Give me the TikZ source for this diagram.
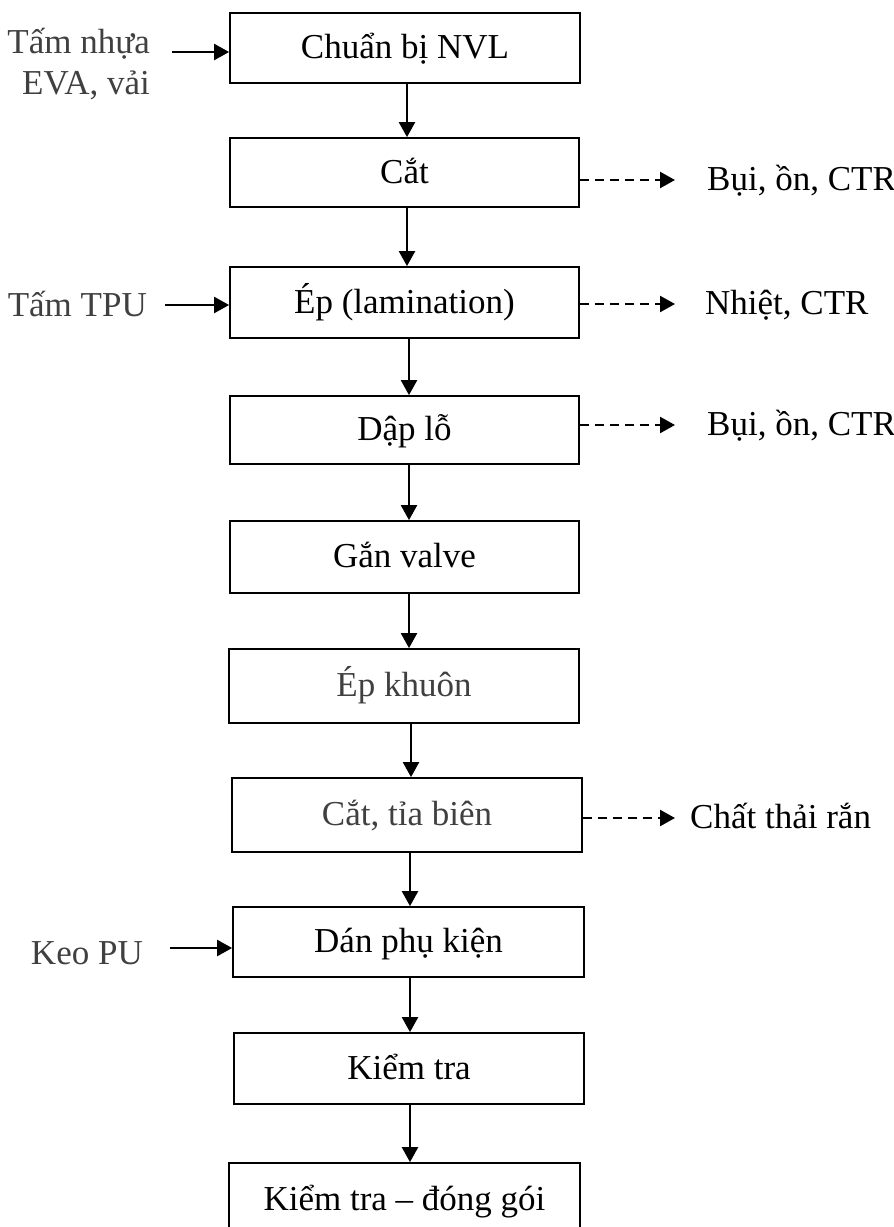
\documentclass[tikz,border=0pt]{standalone}
\usepackage{fontspec}
\setmainfont{Liberation Serif}
\usetikzlibrary{arrows.meta}
\definecolor{labgray}{RGB}{64,64,64}
\begin{document}
\begin{tikzpicture}[x=1pt,y=-1pt,
  box/.style={draw, line width=1.8pt, inner sep=0pt, font=\fontsize{35}{41}\selectfont, text height=29pt, text depth=8pt},
  lab/.style={inner sep=0pt, font=\fontsize{35}{41}\selectfont, text height=29pt, text depth=8pt},
  arr/.style={line width=2.4pt, -{Triangle[length=15pt,width=16pt]}},
  darr/.style={line width=2.4pt, dash pattern=on 9pt off 6pt, -{Triangle[length=15pt,width=16pt]}}]
\useasboundingbox (0,0) rectangle (894,1227);
\clip (0,0) rectangle (894,1227);

% process boxes
\node[box, minimum width=350pt, minimum height=70pt] (b1) at (405,48) {Chuẩn bị NVL};
\node[box, minimum width=349pt, minimum height=69pt] (b2) at (404.5,172.5) {Cắt};
\node[box, minimum width=349pt, minimum height=71pt] (b3) at (404.5,302.5) {Ép (lamination)};
\node[box, minimum width=349pt, minimum height=68pt] (b4) at (404.5,430) {Dập lỗ};
\node[box, minimum width=349pt, minimum height=72pt] (b5) at (404.5,557) {Gắn valve};
\node[box, minimum width=350pt, minimum height=74pt, text=labgray] (b6) at (404,686) {Ép khuôn};
\node[box, minimum width=350pt, minimum height=74pt, text=labgray] (b7) at (407,815) {Cắt, tỉa biên};
\node[box, minimum width=351pt, minimum height=70pt] (b8) at (408.5,942) {Dán phụ kiện};
\node[box, minimum width=350pt, minimum height=71pt] (b9) at (409,1068.5) {Kiểm tra};
\node[box, minimum width=351pt, minimum height=73pt] (b10) at (404.5,1199.5) {Kiểm tra – đóng gói};

% vertical flow arrows
\draw[arr] ([xshift=2pt]b1.south) -- ([xshift=2pt]b1.south |- b2.north);
\draw[arr] ([xshift=2.5pt]b2.south) -- ([xshift=2.5pt]b2.south |- b3.north);
\draw[arr] ([xshift=4.5pt]b3.south) -- ([xshift=4.5pt]b3.south |- b4.north);
\draw[arr] ([xshift=4.5pt]b4.south) -- ([xshift=4.5pt]b4.south |- b5.north);
\draw[arr] ([xshift=4.5pt]b5.south) -- ([xshift=4.5pt]b5.south |- b6.north);
\draw[arr] ([xshift=7pt]b6.south) -- ([xshift=7pt]b6.south |- b7.north);
\draw[arr] ([xshift=3pt]b7.south) -- ([xshift=3pt]b7.south |- b8.north);
\draw[arr] ([xshift=1.5pt]b8.south) -- ([xshift=1.5pt]b8.south |- b9.north);
\draw[arr] ([xshift=1pt]b9.south) -- ([xshift=1pt]b9.south |- b10.north);

% inputs (left)
\node[lab, text=labgray, anchor=base east] (in1a) at (150,53) {Tấm nhựa};
\node[lab, text=labgray, anchor=base east] (in1b) at (150,94) {EVA, vải};
\coordinate (s1) at (172,52);
\draw[arr] (s1) -- (s1 -| b1.west);

\node[lab, text=labgray, anchor=east] (in2) at (147,306) {Tấm TPU};
\coordinate (s2) at (165,305);
\draw[arr] (s2) -- (s2 -| b3.west);

\node[lab, text=labgray, anchor=east] (in3) at (143,954) {Keo PU};
\coordinate (s3) at (170,948);
\draw[arr] (s3) -- (s3 -| b8.west);

% outputs (right)
\node[lab, anchor=west] (o1) at (707,180) {Bụi, ồn, CTR};
\node[lab, anchor=west] (o2) at (705,304) {Nhiệt, CTR};
\node[lab, anchor=west] (o3) at (707,425) {Bụi, ồn, CTR};
\node[lab, anchor=west] (o4) at (690,818) {Chất thải rắn};

\draw[darr] (b2.east |- o1.west) -- ([xshift=-32pt]o1.west);
\draw[darr] (b3.east |- o2.west) -- ([xshift=-30pt]o2.west);
\draw[darr] (b4.east |- o3.west) -- ([xshift=-32pt]o3.west);
\draw[darr] (b7.east |- o4.west) -- ([xshift=-15pt]o4.west);
\end{tikzpicture}
\end{document}
